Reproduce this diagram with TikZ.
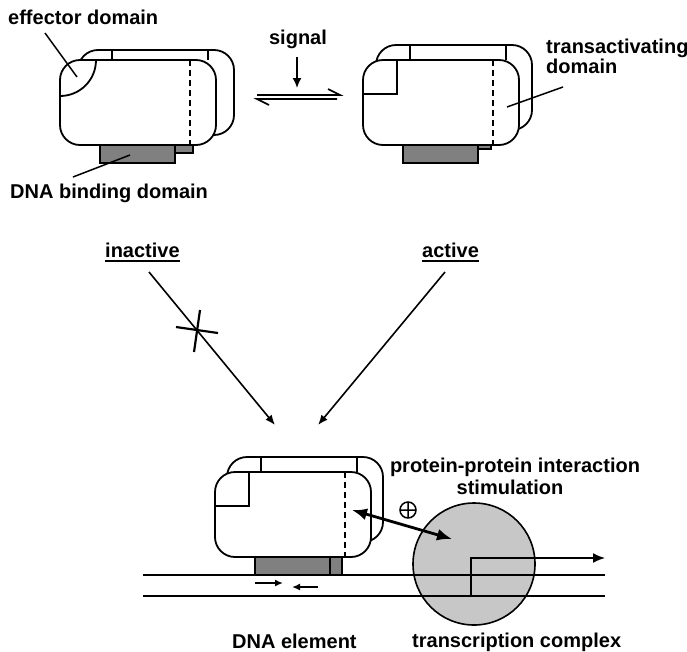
\documentclass[tikz,border=0pt]{standalone}
\usepackage{fontspec}
\setmainfont{Liberation Sans}
\usetikzlibrary{arrows.meta}

\tikzset{
  box/.style={line width=1.8pt, rounded corners=20pt, fill=white},
  dbd/.style={line width=1.4pt, fill=black!50},
  lbl/.style={inner sep=0pt, anchor=base west, font=\fontsize{20}{24}\selectfont\bfseries},
  leader/.style={line width=1.5pt},
}

% #1,#2: offset of the back copy, #3: drop of its DNA binding domain
\newcommand{\tfprotein}[3]{%
  \draw[box] (#1,#2) rectangle ++(156,85);
  \draw[line width=1.8pt] (34+#1,#2) -- (34+#1,0) (130+#1,#2) -- (130+#1,0);
  \draw[dbd] (40+#1,85+#2) rectangle (115+#1,103+#3);
  \draw[dbd] (40,85) rectangle (115,103);
  \draw[box] (0,0) rectangle (156,85);
  \draw[line width=1.8pt, dash pattern=on 6pt off 4pt] (130,0) -- (130,85);
}

\begin{document}
\begin{tikzpicture}[x=1pt, y=-1pt, >={Latex[length=10pt,width=8pt]}]
\useasboundingbox (0,0) rectangle (687,651);

% inactive form
\begin{scope}[shift={(60,60)}]
\tfprotein{18}{-10}{-10}
\draw[line width=1.8pt] (0,36) .. controls (20,36) and (36,20) .. (36,0);
\end{scope}

% active form
\begin{scope}[shift={(363,60)}]
\tfprotein{13}{-15}{-14}
\draw[line width=1.8pt] (0,34) -- (34,34) -- (34,0);
\end{scope}

% labels of the domains
\node[lbl] (effector) at (8,24) {effector domain};
\coordinate (effector root) at (45,33);
\coordinate (effector tip) at (77,77);
\draw[leader] (effector root) -- (effector tip);

\node[lbl] (binding) at (10,198) {DNA binding domain};
\coordinate (binding root) at (73,177);
\coordinate (binding tip) at (130,155);
\draw[leader] (binding root) -- (binding tip);

\node[lbl] (transact) at (546,53) {transactivating};
\node[lbl] (transact2) at (546,73) {domain};
\coordinate (transact root) at (563,87);
\coordinate (transact tip) at (507,107);
\draw[leader] (transact root) -- (transact tip);

% signal and equilibrium
\node[lbl, anchor=base] (signal) at (298,44) {signal};
\coordinate (signal root) at (297,57);
\coordinate (signal tip) at (297,88);
\draw[line width=1.6pt, -{Latex[length=10pt,width=9pt]}] (signal root) -- (signal tip);
\draw[line width=1.6pt] (257,95) -- (340,95) -- (328,89);
\draw[line width=1.6pt] (337,99) -- (257,99) -- (269,105);

% inactive / active
\node[lbl] (inactive) at (105,257) {inactive};
\node[lbl] (active) at (422,257) {active};
\draw[line width=2pt] ([yshift=-3.5pt]inactive.base west) -- ([yshift=-3.5pt]inactive.base east);
\draw[line width=2pt] ([yshift=-3.5pt]active.base west) -- ([yshift=-3.5pt]active.base east);

\coordinate (inactive root) at (149,272);
\coordinate (active root) at (445,272);
\coordinate (dock l) at (275,425);
\coordinate (dock r) at (318,425);
\draw[line width=1.6pt, ->] (inactive root) -- (dock l);
\draw[line width=1.6pt, ->] (active root) -- (dock r);
\draw[line width=2.2pt] (200,310) -- (194,352) (176,327) -- (218,333); % blocked

% DNA and transcription complex
\node[circle, draw, line width=1.6pt, fill=black!22, minimum size=122pt, inner sep=0pt] (complex) at (474,564) {};
\draw[line width=1.6pt] (143,575) -- (605,575) (143,596) -- (605,596);
\draw[line width=1.6pt, -{Latex[length=12pt,width=10pt]}] (471,596) -- (471,558) -- (605,558);

% bound form
\begin{scope}[shift={(215,472)}]
\tfprotein{12}{-15}{0}
\draw[line width=1.8pt] (0,34) -- (34,34) -- (34,0);
\end{scope}
\draw[line width=1.6pt, -{Latex[length=8pt,width=7pt]}] (255,583) -- (283,583);
\draw[line width=1.6pt, -{Latex[length=8pt,width=7pt]}] (318,587) -- (292,587);

% protein-protein interaction
\coordinate (ta site) at (352,510);
\coordinate (complex site) at (452,539);
\draw[line width=2.8pt, {Latex[length=15pt,width=12pt]}-{Latex[length=15pt,width=12pt]}] (ta site) -- (complex site);
\draw[line width=1.5pt] (408,510) circle[radius=8] (400,510) -- (416,510) (408,502) -- (408,518);

\node[lbl, anchor=base] (ppi) at (515,472) {protein-protein interaction};
\node[lbl, anchor=base] (stim) at (510,494) {stimulation};
\node[lbl] (element) at (232,648) {DNA element};
\node[lbl] (txcomplex) at (412,647) {transcription complex};

\end{tikzpicture}
\end{document}
